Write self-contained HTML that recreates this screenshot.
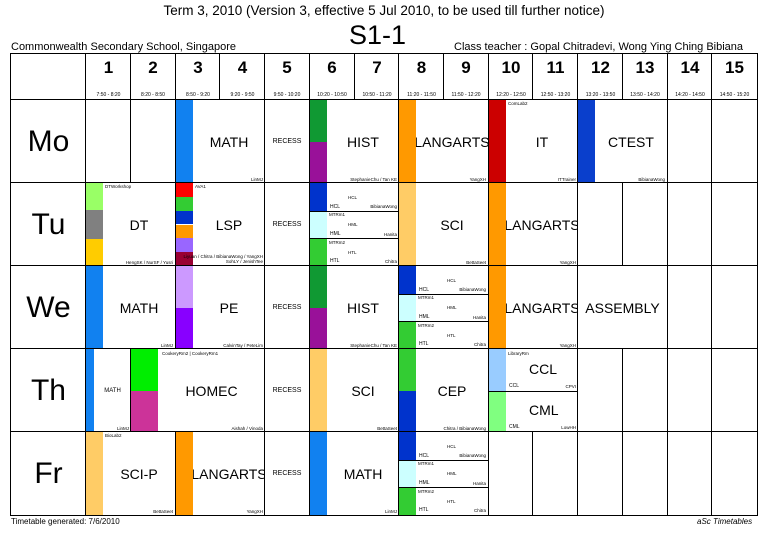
<!DOCTYPE html><html><head><style>
body{margin:0;width:768px;height:543px;background:#fff;position:relative;overflow:hidden;font-family:"Liberation Sans",sans-serif;color:#000}
.a{position:absolute;white-space:nowrap}
.c{position:absolute;border:1.5px solid #000;box-sizing:border-box;background:#fff;display:flex;align-items:center;justify-content:center}
.b{position:absolute;left:0}
.t{font-size:14px}
.s{position:absolute;font-size:4.5px;white-space:nowrap}
.r{right:2px;bottom:1px}
.l{left:19px;top:1px}
.n{font-size:17px;font-weight:bold;position:absolute;top:4px;left:0;right:0;text-align:center}
.h{font-size:5px;position:absolute;bottom:2px;left:0;right:0;text-align:center}
.d{font-size:30px}
.sub{position:absolute;left:0;right:0;border-top:1px solid #000}
</style></head><body>
<div class="a" style="left:0;width:768px;text-align:center;top:3px;font-size:13.5px">Term 3, 2010 (Version 3, effective 5 Jul 2010, to be used till further notice)</div>
<div class="a" style="left:349px;top:20px;font-size:27px">S1-1</div>
<div class="a" style="left:11px;top:41px;font-size:11px">Commonwealth Secondary School, Singapore</div>
<div class="a" style="left:454px;top:41px;font-size:11px">Class teacher : Gopal Chitradevi, Wong Ying Ching Bibiana</div>
<div class="a" style="left:11px;top:517px;font-size:8px">Timetable generated: 7/6/2010</div>
<div class="a" style="left:697px;top:517px;font-size:8px;font-style:italic">aSc Timetables</div>

<!-- header -->
<div class="c" style="left:10px;top:53px;width:77px;height:48px"></div>
<div class="c" style="left:85px;top:53px;width:47px;height:48px"><div class="n">1</div><div class="h">7:50 - 8:20</div></div>
<div class="c" style="left:130px;top:53px;width:46px;height:48px"><div class="n">2</div><div class="h">8:20 - 8:50</div></div>
<div class="c" style="left:175px;top:53px;width:46px;height:48px"><div class="n">3</div><div class="h">8:50 - 9:20</div></div>
<div class="c" style="left:219px;top:53px;width:47px;height:48px"><div class="n">4</div><div class="h">9:20 - 9:50</div></div>
<div class="c" style="left:264px;top:53px;width:46px;height:48px"><div class="n">5</div><div class="h">9:50 - 10:20</div></div>
<div class="c" style="left:309px;top:53px;width:46px;height:48px"><div class="n">6</div><div class="h">10:20 - 10:50</div></div>
<div class="c" style="left:354px;top:53px;width:46px;height:48px"><div class="n">7</div><div class="h">10:50 - 11:20</div></div>
<div class="c" style="left:398px;top:53px;width:47px;height:48px"><div class="n">8</div><div class="h">11:20 - 11:50</div></div>
<div class="c" style="left:443px;top:53px;width:46px;height:48px"><div class="n">9</div><div class="h">11:50 - 12:20</div></div>
<div class="c" style="left:488px;top:53px;width:46px;height:48px"><div class="n">10</div><div class="h">12:20 - 12:50</div></div>
<div class="c" style="left:532px;top:53px;width:47px;height:48px"><div class="n">11</div><div class="h">12:50 - 13:20</div></div>
<div class="c" style="left:577px;top:53px;width:47px;height:48px"><div class="n">12</div><div class="h">13:20 - 13:50</div></div>
<div class="c" style="left:622px;top:53px;width:46px;height:48px"><div class="n">13</div><div class="h">13:50 - 14:20</div></div>
<div class="c" style="left:667px;top:53px;width:46px;height:48px"><div class="n">14</div><div class="h">14:20 - 14:50</div></div>
<div class="c" style="left:711px;top:53px;width:47px;height:48px"><div class="n">15</div><div class="h">14:50 - 15:20</div></div>

<!-- day labels -->
<div class="c" style="left:10px;top:99px;width:77px;height:85px"><span class="d">Mo</span></div>
<div class="c" style="left:10px;top:182px;width:77px;height:85px"><span class="d">Tu</span></div>
<div class="c" style="left:10px;top:265px;width:77px;height:85px"><span class="d">We</span></div>
<div class="c" style="left:10px;top:348px;width:77px;height:85px"><span class="d">Th</span></div>
<div class="c" style="left:10px;top:431px;width:77px;height:85px"><span class="d">Fr</span></div>

<!-- Mo -->
<div class="c" style="left:85px;top:99px;width:47px;height:85px"></div>
<div class="c" style="left:130px;top:99px;width:46px;height:85px"></div>
<div class="c" style="left:175px;top:99px;width:91px;height:85px;padding-left:17px"><div class="b" style="top:0;bottom:0;width:17px;background:#1181f0"></div><span class="t">MATH</span><span class="s r">LinMJ</span></div>
<div class="c" style="left:264px;top:99px;width:46px;height:85px"><span style="font-size:7px">RECESS</span></div>
<div class="c" style="left:309px;top:99px;width:91px;height:85px;padding-left:17px"><div class="b" style="top:0;height:50%;width:17px;background:#109933"></div><div class="b" style="top:50%;bottom:0;width:17px;background:#991199"></div><span class="t">HIST</span><span class="s r">StephanieChu / Tan KE</span></div>
<div class="c" style="left:398px;top:99px;width:91px;height:85px;padding-left:17px"><div class="b" style="top:0;bottom:0;width:17px;background:#ff9900"></div><span class="t">LANGARTS</span><span class="s r">YangXH</span></div>
<div class="c" style="left:488px;top:99px;width:91px;height:85px;padding-left:17px"><div class="b" style="top:0;bottom:0;width:17px;background:#cc0000"></div><span class="s l">ComLab2</span><span class="t">IT</span><span class="s r">ITTrainer</span></div>
<div class="c" style="left:577px;top:99px;width:91px;height:85px;padding-left:17px"><div class="b" style="top:0;bottom:0;width:17px;background:#0a3fcc"></div><span class="t">CTEST</span><span class="s r">BibianaWong</span></div>
<div class="c" style="left:667px;top:99px;width:46px;height:85px"></div>
<div class="c" style="left:711px;top:99px;width:47px;height:85px"></div>

<!-- Tu -->
<div class="c" style="left:85px;top:182px;width:91px;height:85px;padding-left:17px"><div class="b" style="top:0;height:33%;width:17px;background:#99ff66"></div><div class="b" style="top:33%;height:34%;width:17px;background:#808080"></div><div class="b" style="top:67%;bottom:0;width:17px;background:#ffcc00"></div><span class="s l">DTWorkshop</span><span class="t">DT</span><span class="s r">HengSK / NurSF / Yusri</span></div>
<div class="c" style="left:175px;top:182px;width:91px;height:85px;padding-left:17px"><div class="b" style="top:0;height:16.7%;width:17px;background:#ff0000"></div><div class="b" style="top:16.7%;height:16.7%;width:17px;background:#33cc33"></div><div class="b" style="top:33.3%;height:16.7%;width:17px;background:#0033cc"></div><div class="b" style="top:50%;height:16.7%;width:17px;background:#ff9900"></div><div class="b" style="top:66.7%;height:16.7%;width:17px;background:#9966ff"></div><div class="b" style="top:83.3%;bottom:0;width:17px;background:#990033"></div><span class="s l">AVA1</span><span class="t">LSP</span><span class="s r" style="text-align:right;bottom:2px">Liyuan / Chitra / BibianaWong / YangXH<br>SohLY / JenishTee</span></div>
<div class="c" style="left:264px;top:182px;width:46px;height:85px"><span style="font-size:7px">RECESS</span></div>
<div class="c" style="left:309px;top:182px;width:91px;height:85px;display:block">
 <div class="b" style="top:0;height:33.3%;width:17px;background:#0033cc"></div>
 <div class="b" style="top:33.3%;height:33.3%;width:17px;background:#ccffff"></div>
 <div class="b" style="top:66.7%;bottom:0;width:17px;background:#33cc33"></div>
 <div class="sub" style="top:33.3%"></div><div class="sub" style="top:66.7%"></div>
 <span class="s" style="left:38px;top:12px">HCL</span><span class="s" style="left:20px;top:21px;font-size:5px">HCL</span><span class="s" style="right:2px;top:21px">BibianaWong</span>
 <span class="s" style="left:19px;top:29px">MTRm1</span><span class="s" style="left:38px;top:39px">HML</span><span class="s" style="left:20px;top:48px;font-size:5px">HML</span><span class="s" style="right:2px;top:49px">Hanita</span>
 <span class="s" style="left:19px;top:57px">MTRm2</span><span class="s" style="left:38px;top:67px">HTL</span><span class="s" style="left:20px;top:75px;font-size:5px">HTL</span><span class="s" style="right:2px;top:76px">Chitra</span>
</div>
<div class="c" style="left:398px;top:182px;width:91px;height:85px;padding-left:17px"><div class="b" style="top:0;bottom:0;width:17px;background:#ffcc66"></div><span class="t">SCI</span><span class="s r">BettaSeet</span></div>
<div class="c" style="left:488px;top:182px;width:91px;height:85px;padding-left:17px"><div class="b" style="top:0;bottom:0;width:17px;background:#ff9900"></div><span class="t">LANGARTS</span><span class="s r">YangXH</span></div>
<div class="c" style="left:577px;top:182px;width:47px;height:85px"></div>
<div class="c" style="left:622px;top:182px;width:46px;height:85px"></div>
<div class="c" style="left:667px;top:182px;width:46px;height:85px"></div>
<div class="c" style="left:711px;top:182px;width:47px;height:85px"></div>

<!-- We -->
<div class="c" style="left:85px;top:265px;width:91px;height:85px;padding-left:17px"><div class="b" style="top:0;bottom:0;width:17px;background:#1181f0"></div><span class="t">MATH</span><span class="s r">LinMJ</span></div>
<div class="c" style="left:175px;top:265px;width:91px;height:85px;padding-left:17px"><div class="b" style="top:0;height:50%;width:17px;background:#cc99ff"></div><div class="b" style="top:50%;bottom:0;width:17px;background:#8800ff"></div><span class="t">PE</span><span class="s r">CalvinTay / PeteLim</span></div>
<div class="c" style="left:264px;top:265px;width:46px;height:85px"><span style="font-size:7px">RECESS</span></div>
<div class="c" style="left:309px;top:265px;width:91px;height:85px;padding-left:17px"><div class="b" style="top:0;height:50%;width:17px;background:#109933"></div><div class="b" style="top:50%;bottom:0;width:17px;background:#991199"></div><span class="t">HIST</span><span class="s r">StephanieChu / Tan KE</span></div>
<div class="c" style="left:398px;top:265px;width:91px;height:85px;display:block">
 <div class="b" style="top:0;height:33.3%;width:17px;background:#0033cc"></div>
 <div class="b" style="top:33.3%;height:33.3%;width:17px;background:#ccffff"></div>
 <div class="b" style="top:66.7%;bottom:0;width:17px;background:#33cc33"></div>
 <div class="sub" style="top:33.3%"></div><div class="sub" style="top:66.7%"></div>
 <span class="s" style="left:48px;top:12px">HCL</span><span class="s" style="left:20px;top:21px;font-size:5px">HCL</span><span class="s" style="right:2px;top:21px">BibianaWong</span>
 <span class="s" style="left:19px;top:29px">MTRm1</span><span class="s" style="left:48px;top:39px">HML</span><span class="s" style="left:20px;top:48px;font-size:5px">HML</span><span class="s" style="right:2px;top:49px">Hanita</span>
 <span class="s" style="left:19px;top:57px">MTRm2</span><span class="s" style="left:48px;top:67px">HTL</span><span class="s" style="left:20px;top:75px;font-size:5px">HTL</span><span class="s" style="right:2px;top:76px">Chitra</span>
</div>
<div class="c" style="left:488px;top:265px;width:91px;height:85px;padding-left:17px"><div class="b" style="top:0;bottom:0;width:17px;background:#ff9900"></div><span class="t">LANGARTS</span><span class="s r">YangXH</span></div>
<div class="c" style="left:577px;top:265px;width:91px;height:85px"><span class="t">ASSEMBLY</span></div>
<div class="c" style="left:667px;top:265px;width:46px;height:85px"></div>
<div class="c" style="left:711px;top:265px;width:47px;height:85px"></div>

<!-- Th -->
<div class="c" style="left:85px;top:348px;width:47px;height:85px;padding-left:8px"><div class="b" style="top:0;bottom:0;width:8px;background:#1181f0"></div><span style="font-size:6px">MATH</span><span class="s r">LinMJ</span></div>
<div class="c" style="left:130px;top:348px;width:136px;height:85px;padding-left:27px"><div class="b" style="top:0;height:50%;width:27px;background:#00ee00"></div><div class="b" style="top:50%;bottom:0;width:27px;background:#cc3399"></div><span class="s" style="left:31px;top:2px">CookeryRm2 | CookeryRm1</span><span class="t">HOMEC</span><span class="s r">Aishah / Vinoda</span></div>
<div class="c" style="left:264px;top:348px;width:46px;height:85px"><span style="font-size:7px">RECESS</span></div>
<div class="c" style="left:309px;top:348px;width:91px;height:85px;padding-left:17px"><div class="b" style="top:0;bottom:0;width:17px;background:#ffcc66"></div><span class="t">SCI</span><span class="s r">BettaSeet</span></div>
<div class="c" style="left:398px;top:348px;width:91px;height:85px;padding-left:17px"><div class="b" style="top:0;height:50%;width:17px;background:#33cc33"></div><div class="b" style="top:50%;bottom:0;width:17px;background:#0033cc"></div><span class="t">CEP</span><span class="s r">Chitra / BibianaWong</span></div>
<div class="c" style="left:488px;top:348px;width:91px;height:85px;display:block">
 <div class="b" style="top:0;height:50%;width:17px;background:#99ccff"></div>
 <div class="b" style="top:50%;bottom:0;width:17px;background:#80ff80"></div>
 <div class="sub" style="top:50%"></div>
 <span class="s" style="left:19px;top:2px">LibraryRm</span>
 <span class="a" style="left:40px;top:12px;font-size:14px">CCL</span><span class="s" style="left:20px;top:34px;font-size:5px">CCL</span><span class="s" style="right:2px;top:35px">CPVI</span>
 <span class="a" style="left:40px;top:53px;font-size:14px">CML</span><span class="s" style="left:20px;top:75px;font-size:5px">CML</span><span class="s" style="right:2px;top:76px">LowHH</span>
</div>
<div class="c" style="left:577px;top:348px;width:47px;height:85px"></div>
<div class="c" style="left:622px;top:348px;width:46px;height:85px"></div>
<div class="c" style="left:667px;top:348px;width:46px;height:85px"></div>
<div class="c" style="left:711px;top:348px;width:47px;height:85px"></div>

<!-- Fr -->
<div class="c" style="left:85px;top:431px;width:91px;height:85px;padding-left:17px"><div class="b" style="top:0;bottom:0;width:17px;background:#ffcc66"></div><span class="s l">BioLab2</span><span class="t">SCI-P</span><span class="s r">BettaSeet</span></div>
<div class="c" style="left:175px;top:431px;width:91px;height:85px;padding-left:17px"><div class="b" style="top:0;bottom:0;width:17px;background:#ff9900"></div><span class="t">LANGARTS</span><span class="s r">YangXH</span></div>
<div class="c" style="left:264px;top:431px;width:46px;height:85px"><span style="font-size:7px">RECESS</span></div>
<div class="c" style="left:309px;top:431px;width:91px;height:85px;padding-left:17px"><div class="b" style="top:0;bottom:0;width:17px;background:#1181f0"></div><span class="t">MATH</span><span class="s r">LinMJ</span></div>
<div class="c" style="left:398px;top:431px;width:91px;height:85px;display:block">
 <div class="b" style="top:0;height:33.3%;width:17px;background:#0033cc"></div>
 <div class="b" style="top:33.3%;height:33.3%;width:17px;background:#ccffff"></div>
 <div class="b" style="top:66.7%;bottom:0;width:17px;background:#33cc33"></div>
 <div class="sub" style="top:33.3%"></div><div class="sub" style="top:66.7%"></div>
 <span class="s" style="left:48px;top:12px">HCL</span><span class="s" style="left:20px;top:21px;font-size:5px">HCL</span><span class="s" style="right:2px;top:21px">BibianaWong</span>
 <span class="s" style="left:19px;top:29px">MTRm1</span><span class="s" style="left:48px;top:39px">HML</span><span class="s" style="left:20px;top:48px;font-size:5px">HML</span><span class="s" style="right:2px;top:49px">Hanita</span>
 <span class="s" style="left:19px;top:57px">MTRm2</span><span class="s" style="left:48px;top:67px">HTL</span><span class="s" style="left:20px;top:75px;font-size:5px">HTL</span><span class="s" style="right:2px;top:76px">Chitra</span>
</div>
<div class="c" style="left:488px;top:431px;width:46px;height:85px"></div>
<div class="c" style="left:532px;top:431px;width:47px;height:85px"></div>
<div class="c" style="left:577px;top:431px;width:47px;height:85px"></div>
<div class="c" style="left:622px;top:431px;width:46px;height:85px"></div>
<div class="c" style="left:667px;top:431px;width:46px;height:85px"></div>
<div class="c" style="left:711px;top:431px;width:47px;height:85px"></div>
</body></html>
